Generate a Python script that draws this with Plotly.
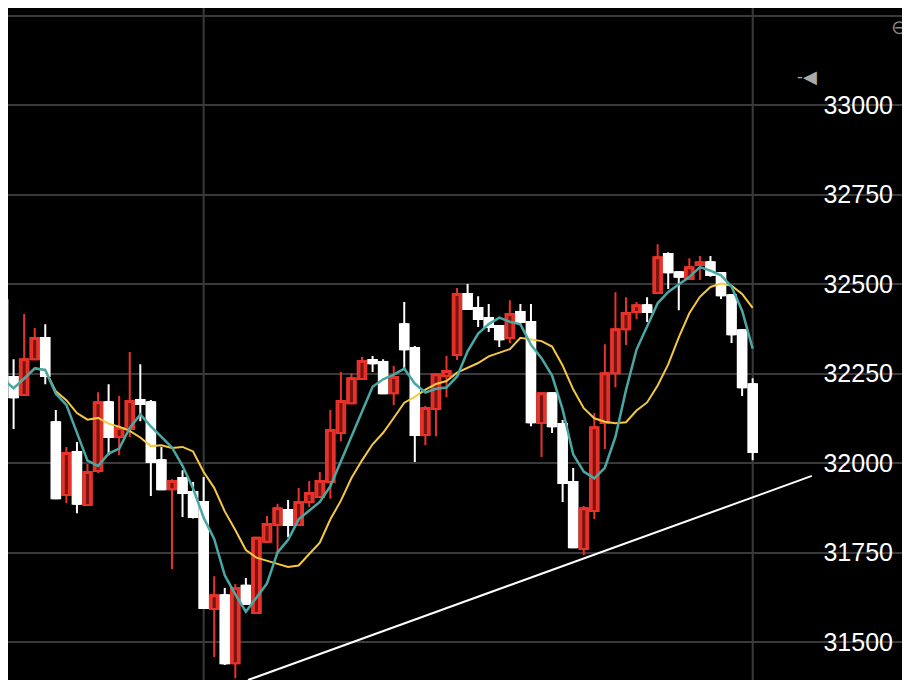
import plotly.graph_objects as go
import pandas as pd

opens = [32455,32240,32190,32290,32349,32114,31911,32031,31883,31978,32170,32073,32095,32176,32170,32008,31927,31958,31919,
         31891,31592,31631,31441,31657,31581,31780,31827,31869,31827,31891,31905,31947,32084,32167,32235,32288,32282,
         32195,32388,32321,32078,32151,32243,32302,32472,32433,32405,32383,32349,32422,32394,32112,32195,32109,31947,
         31760,31866,32112,32251,32374,32422,32441,32475,32584,32533,32514,32553,32561,32531,32469,32371,32220]
highs = [32527,32290,32416,32377,32388,32148,32045,32059,31997,32198,32220,32187,32310,32276,32176,32045,31955,31980,31947,
         31961,31684,31651,31662,31679,31793,31852,31886,31897,31930,31950,31975,32148,32254,32251,32296,32299,32290,
         32271,32450,32327,32160,32251,32299,32489,32500,32466,32444,32385,32455,32444,32444,32197,32197,32120,31986,
         31880,32140,32332,32477,32463,32450,32463,32611,32589,32533,32572,32578,32578,32533,32470,32374,32237]
lows = [32159,32095,32187,32287,32220,31900,31888,31860,31880,31972,32022,32022,32073,32117,31908,31925,31704,31849,31845,
        31592,31458,31436,31399,31604,31580,31777,31751,31793,31825,31877,31903,31900,32061,32165,32232,32254,32193,
        32162,32260,32003,32050,32075,32184,32288,32428,32380,32366,32324,32335,32385,32103,32017,32084,31891,31763,
        31743,31844,32039,32212,32330,32402,32394,32472,32486,32427,32511,32511,32520,32458,32335,32187,32008]
closes = [32234,32184,32290,32349,32243,31902,32028,31886,31975,32170,32073,32098,32173,32165,32003,31927,31950,31916,31849,
          31595,31631,31441,31651,31606,31791,31830,31874,31827,31891,31916,31950,32092,32173,32237,32285,32279,32195,
          32240,32318,32078,32154,32248,32257,32472,32430,32402,32380,32346,32416,32394,32114,32195,32103,31944,31765,
          31874,32100,32251,32374,32419,32441,32422,32575,32533,32520,32547,32561,32525,32469,32360,32212,32031]
y_ticks = [31500, 31750, 32000, 32250, 32500, 32750, 33000, 33250]
y_tick_labels = ["31500", "31750", "32000", "32250", "32500", "32750", "33000", ""]
trend_x = [23.2, 76.6]
trend_y = [31394, 31964]
vgrid_idx = [19, 71]

UP_LINE, UP_FILL, DOWN = "#e8332a", "#7a1410", "#ffffff"

idx = list(range(len(closes)))
s = pd.Series(closes)
ma5 = s.rolling(5, min_periods=1).mean()
ma10 = s.rolling(10, min_periods=1).mean()

is_up = [c >= o for o, c in zip(opens, closes)]
body_base = [min(o, c) for o, c in zip(opens, closes)]
body_h = [max(abs(c - o), 3) for o, c in zip(opens, closes)]

fig = go.Figure()
fig.add_trace(go.Candlestick(
    x=idx, open=opens, high=highs, low=lows, close=closes,
    increasing=dict(line=dict(color=UP_LINE, width=2), fillcolor=UP_FILL),
    decreasing=dict(line=dict(color=DOWN, width=2), fillcolor=DOWN),
    whiskerwidth=0, showlegend=False, hoverinfo="skip"))
fig.add_trace(go.Bar(
    x=idx, y=body_h, base=body_base, width=0.82,
    marker=dict(color=[UP_FILL if u else DOWN for u in is_up],
                line=dict(color=[UP_LINE if u else DOWN for u in is_up], width=2)),
    showlegend=False, hoverinfo="skip"))
fig.add_trace(go.Scatter(x=idx, y=ma10, mode="lines", line=dict(color="#f5c842", width=2), showlegend=False))
fig.add_trace(go.Scatter(x=idx, y=ma5, mode="lines", line=dict(color="#4aa8a4", width=2.5), showlegend=False))
fig.add_trace(go.Scatter(x=trend_x, y=trend_y, mode="lines", line=dict(color="#ffffff", width=2), showlegend=False))

for v in vgrid_idx:
    fig.add_shape(type="line", xref="x", yref="paper", x0=v, x1=v, y0=0, y1=1,
                  line=dict(color="#3a3a3a", width=2), layer="below")

fig.add_annotation(xref="paper", yref="paper", x=0.899, y=0.92, text="-◀", showarrow=False,
                   font=dict(color="#aaaaaa", size=18))
fig.add_annotation(xref="paper", yref="paper", x=1.0, xanchor="right", y=0.995, yanchor="top", text="⊖",
                   showarrow=False, font=dict(color="#888888", size=20))

fig.update_layout(
    width=902, height=672, margin=dict(l=0, r=0, t=0, b=0, pad=0, autoexpand=False),
    paper_bgcolor="#000000", plot_bgcolor="#000000",
    xaxis=dict(range=[0.47, 85.9], showgrid=False, zeroline=False, showticklabels=False,
               rangeslider=dict(visible=False), fixedrange=True, showline=False),
    yaxis=dict(range=[31394, 33271], side="right", tickvals=y_ticks, ticktext=y_tick_labels,
               ticklabelposition="inside", showgrid=True, gridcolor="#3a3a3a", gridwidth=2,
               zeroline=False, showline=False, tickfont=dict(color="#ffffff", size=25, family="Liberation Sans"),
               ticklabelstandoff=14),
)
fig.write_html("out.html")
